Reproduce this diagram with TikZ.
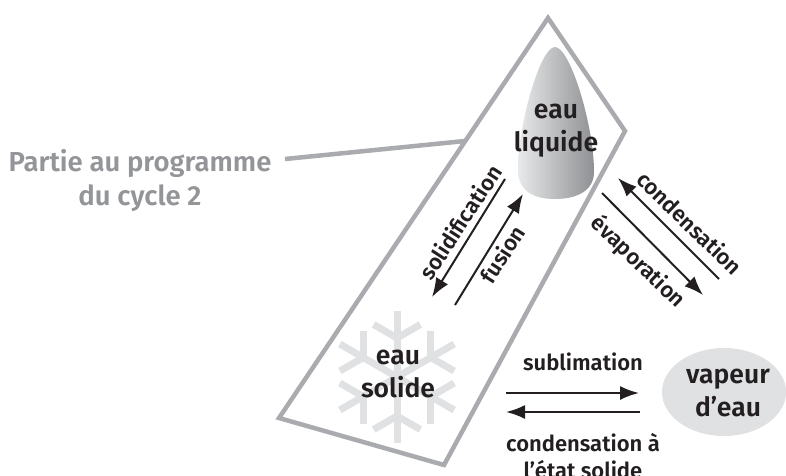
\documentclass[tikz,border=0pt]{standalone}
\usepackage{fontspec}
\setmainfont{Fira Sans}[BoldFont={Fira Sans SemiBold}]
\usetikzlibrary{arrows.meta,calc}
\definecolor{ink}{HTML}{231F20}
\definecolor{frame}{HTML}{A9ABAE}
\definecolor{note}{HTML}{939598}
\definecolor{pale}{HTML}{E0E1E3}
\definecolor{dropdark}{HTML}{8F9093}
\definecolor{droplight}{HTML}{E8E9EA}
\tikzset{
 x=1pt,y=-1pt,
 big/.style={text=ink,font=\fontsize{26.5}{33}\selectfont\bfseries,align=center,inner sep=0pt},
 small/.style={text=ink,font=\fontsize{22}{27}\selectfont\bfseries,align=center,inner sep=0pt},
 flow/.style={draw=ink,line width=2pt,-{Latex[length=19pt,width=14pt]}},
 arm/.style={draw=pale,line width=7pt},
}
\begin{document}
\begin{tikzpicture}
\useasboundingbox (0,0) rectangle (786,475);
% snowflake
\foreach \a in {30,90,150,210,270,330}{
 \draw[arm] (397,377) -- ++(\a:66);
 \draw[arm] ($(397,377)+(\a:39)$) -- ++(\a+60:27);
 \draw[arm] ($(397,377)+(\a:39)$) -- ++(\a-60:27);
}
% drop
\shade[left color=droplight,right color=dropdark] (555,47)
 .. controls (570,47) and (594,125) .. (594,172)
 .. controls (594,190) and (578,199) .. (555,199)
 .. controls (532,199) and (518,190) .. (518,170)
 .. controls (518,125) and (540,47) .. (555,47) -- cycle;
% frame
\coordinate (apex) at (548,18);
\coordinate (right) at (625,131);
\coordinate (bottom) at (444,465);
\coordinate (left) at (279,418);
\coordinate (join) at (465,141);
\coordinate (pt) at (285,159);
\draw[frame,line width=4.5pt] (apex) -- (right) -- (bottom) -- (left) -- cycle;
\draw[frame,line width=4.5pt] (pt) -- (join);
% ellipse
\fill[pale] (724,392) ellipse [x radius=62,y radius=44];
% arrows
\coordinate (a1) at (505,179); \coordinate (a2) at (432,297);
\coordinate (b1) at (455,305); \coordinate (b2) at (523,194);
\coordinate (c1) at (719,279); \coordinate (c2) at (618,178);
\coordinate (d1) at (602,193); \coordinate (d2) at (703,295);
\coordinate (e1) at (506,393); \coordinate (e2) at (639,393);
\coordinate (f1) at (640,412); \coordinate (f2) at (506,412);
\draw[flow] (a1) -- (a2);
\draw[flow] (b1) -- (b2);
\draw[flow] (c1) -- (c2);
\draw[flow] (d1) -- (d2);
\draw[flow] (e1) -- (e2);
\draw[flow] (f1) -- (f2);
% labels
\node[big] (liq) at (556,131) {eau\\liquide};
\node[big] (sol) at (398,374) {eau\\solide};
\node[big] (vap) at (728,393) {vapeur\\d'eau};
\node[small,rotate=57] (solid) at (460,222) {solidification};
\node[small,rotate=57] (fus) at (502,254) {fusion};
\node[small,rotate=-44] (cond) at (690,223) {condensation};
\node[small,rotate=-44] (evap) at (638,262) {évaporation};
\node[small] (subl) at (583,362) {sublimation};
\node[small] (cs) at (583,456) {condensation à\\l'état solide};
\node[big,text=note,font=\fontsize{27.5}{34}\selectfont\bfseries] (part) at (140,180) {Partie au programme\\du cycle 2};
\end{tikzpicture}
\end{document}
